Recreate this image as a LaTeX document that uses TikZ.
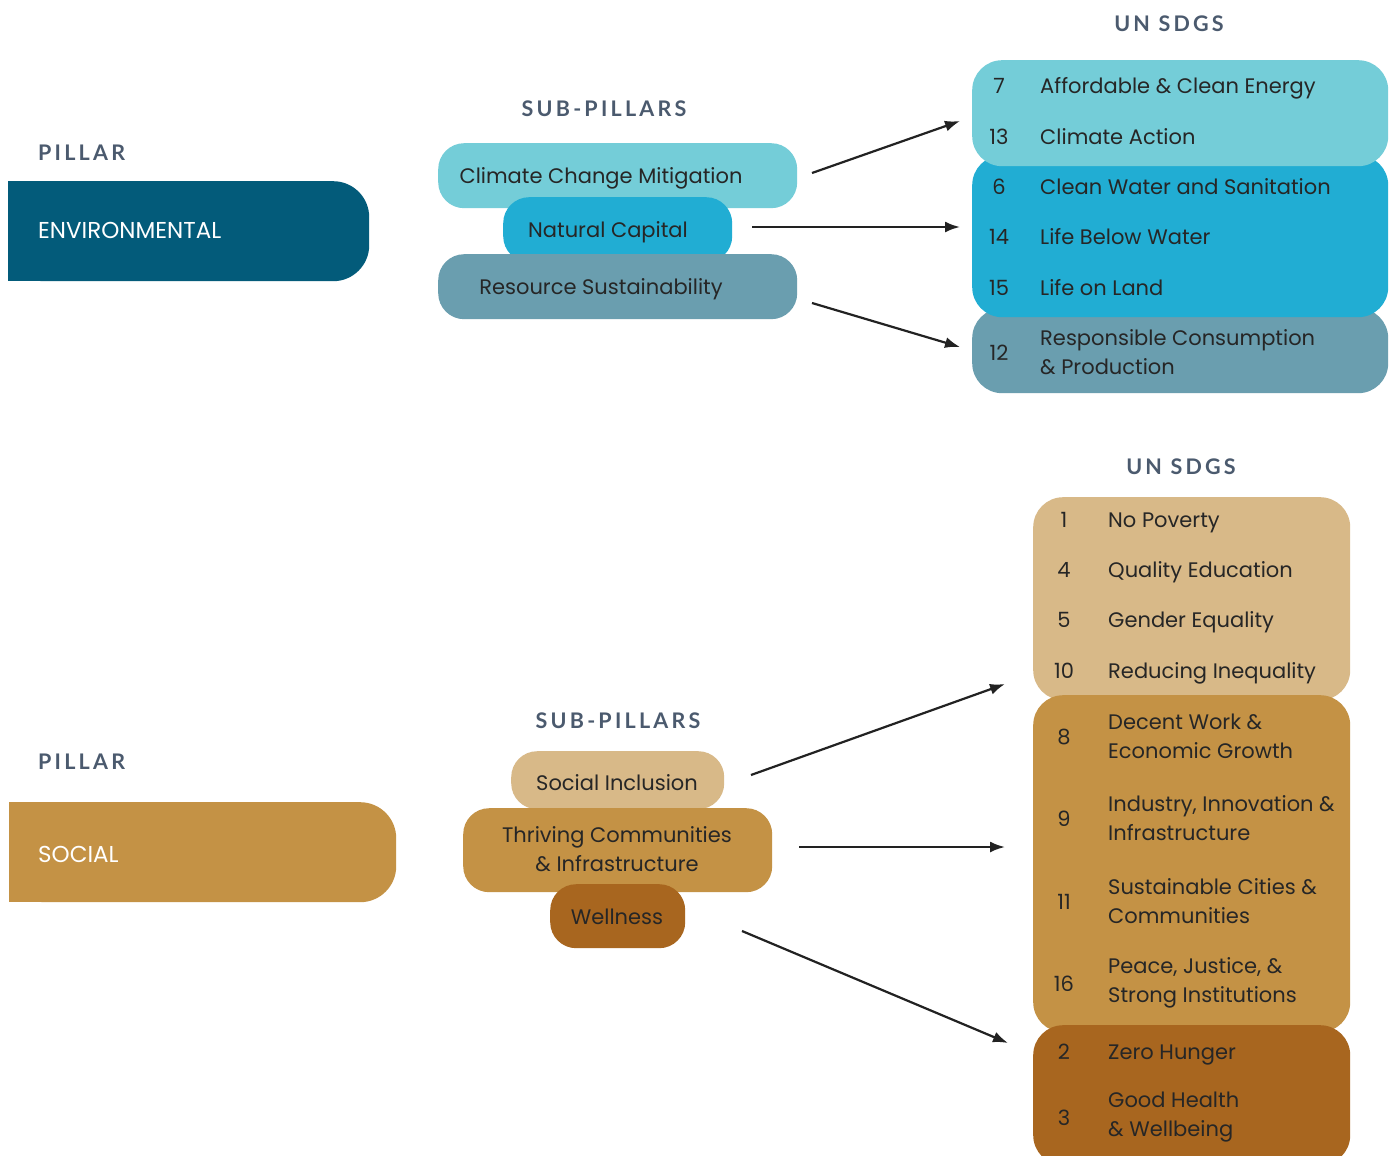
\documentclass[tikz,border=0pt]{standalone}
\usepackage{fontspec}
\setmainfont{Poppins}
\newfontfamily\headfont[LetterSpace=15]{Lato}
\usetikzlibrary{arrows.meta}
\definecolor{envdark}{HTML}{035B7A}
\definecolor{envlight}{HTML}{74CDD8}
\definecolor{envblue}{HTML}{21ADD3}
\definecolor{envgrey}{HTML}{6A9EAF}
\definecolor{soclight}{HTML}{D8B988}
\definecolor{socmid}{HTML}{C49245}
\definecolor{socdark}{HTML}{A8661F}
\definecolor{txtdark}{HTML}{262626}
\definecolor{headc}{HTML}{4B5A6E}
\definecolor{arrowc}{HTML}{222222}
\begin{document}
\begin{tikzpicture}[x=1pt,y=-1pt,
  lbl/.style={font=\fontsize{21}{29}\selectfont, text=txtdark, inner sep=0pt},
  num/.style={lbl, anchor=base},
  itm/.style={lbl, anchor=base west},
  itmm/.style={lbl, anchor=west, align=left},
  head/.style={font=\headfont\bfseries\fontsize{21.5}{24}\selectfont, text=headc, inner sep=0pt},
  plab/.style={font=\fontsize{23}{26}\selectfont, text=white, inner sep=0pt, anchor=base west},
  conn/.style={line width=2.2pt, draw=arrowc, -{Latex[length=15pt,width=11pt]}},
  subbox/.style={rounded corners=26pt, inner sep=0pt, anchor=north west},
  sdgbox/.style={rounded corners=30pt, inner sep=0pt, anchor=north west},
  pillarbox/.style={rounded corners=36pt, inner sep=0pt, anchor=north west}
]
\useasboundingbox[fill=white] (0,0) rectangle (1397,1156);

% ---------------- ENVIRONMENTAL ----------------
\node[head, anchor=west] (envPH) at (38,153) {PILLAR};
\node[head] (envSH) at (604,109) {SUB-PILLARS};
\node[head] (envUH) at (1169,24) {UN SDGS};

\node[pillarbox, fill=envdark, minimum width=361pt, minimum height=100pt] (envP) at (8,181) {};
\fill[envdark] (envP.north west) rectangle ([xshift=60pt]envP.south west);
\node[plab] (envPL) at (38,238) {ENVIRONMENTAL};

\node[subbox, fill=envlight, minimum width=359pt, minimum height=65pt] (ccm) at (438,143) {};
\node[lbl, anchor=base] (ccmL) at (601,183) {Climate Change Mitigation};
\node[subbox, fill=envblue, minimum width=229pt, minimum height=65pt] (nc) at (503,197) {};
\node[lbl, anchor=base] (ncL) at (608,237) {Natural Capital};
\node[subbox, fill=envgrey, minimum width=359pt, minimum height=65pt] (rs) at (438,254) {};
\node[lbl, anchor=base] (rsL) at (601,294) {Resource Sustainability};

\node[sdgbox, fill=envgrey, minimum width=416pt, minimum height=85pt] (sdgE3) at (972,308) {};
\node[sdgbox, fill=envblue, minimum width=416pt, minimum height=162pt] (sdgE2) at (972,155) {};
\node[sdgbox, fill=envlight, minimum width=416pt, minimum height=106pt] (sdgE1) at (972,60) {};

\node[num] (n7) at (999,93) {7};
\node[itm] (t7) at (1040,93) {Affordable \& Clean Energy};
\node[num] (n13) at (999,144) {13};
\node[itm] (t13) at (1040,144) {Climate Action};
\node[num] (n6) at (999,194) {6};
\node[itm] (t6) at (1040,194) {Clean Water and Sanitation};
\node[num] (n14) at (999,244) {14};
\node[itm] (t14) at (1040,244) {Life Below Water};
\node[num] (n15) at (999,295) {15};
\node[itm] (t15) at (1040,295) {Life on Land};
\node[num] (n12) at (999,360) {12};
\node[itmm] (t12) at (1040,352) {Responsible Consumption\\\& Production};

\coordinate (eA1s) at (812,173); \coordinate (eA1e) at (960,121);
\coordinate (eA2s) at (752,227); \coordinate (eA2e) at (960,227);
\coordinate (eA3s) at (812,303); \coordinate (eA3e) at (960,347);
\draw[conn] (eA1s) -- (eA1e);
\draw[conn] (eA2s) -- (eA2e);
\draw[conn] (eA3s) -- (eA3e);

% ---------------- SOCIAL ----------------
\node[head, anchor=west] (socPH) at (38,762) {PILLAR};
\node[head] (socSH) at (618,721) {SUB-PILLARS};
\node[head] (socUH) at (1181,467) {UN SDGS};

\node[pillarbox, fill=socmid, minimum width=387pt, minimum height=100pt] (socP) at (9,802) {};
\fill[socmid] (socP.north west) rectangle ([xshift=60pt]socP.south west);
\node[plab] (socPL) at (38,862) {SOCIAL};

\node[subbox, fill=soclight, minimum width=213pt, minimum height=58pt] (si) at (511,751) {};
\node[lbl, anchor=base] (siL) at (617,790) {Social Inclusion};
\node[subbox, fill=socmid, minimum width=309pt, minimum height=84pt] (tc) at (463,808) {};
\node[lbl, align=center] (tcL) at (617,849) {Thriving Communities\\\& Infrastructure};
\node[subbox, fill=socdark, minimum width=135pt, minimum height=64pt] (we) at (550,884) {};
\node[lbl, anchor=base] (weL) at (617,924) {Wellness};

\node[sdgbox, fill=soclight, minimum width=317pt, minimum height=203pt] (sdgS1) at (1033,497) {};
\node[sdgbox, fill=socmid, minimum width=317pt, minimum height=337pt] (sdgS2) at (1033,695) {};
\node[sdgbox, fill=socdark, minimum width=317pt, minimum height=140pt] (sdgS3) at (1033,1025) {};

\node[num] (n1) at (1064,527) {1};
\node[itm] (t1) at (1108,527) {No Poverty};
\node[num] (n4) at (1064,577) {4};
\node[itm] (t4) at (1108,577) {Quality Education};
\node[num] (n5) at (1064,627) {5};
\node[itm] (t5) at (1108,627) {Gender Equality};
\node[num] (n10) at (1064,678) {10};
\node[itm] (t10) at (1108,678) {Reducing Inequality};
\node[num] (n8) at (1064,744) {8};
\node[itmm] (t8) at (1108,736) {Decent Work \&\\Economic Growth};
\node[num] (n9) at (1064,826) {9};
\node[itmm] (t9) at (1108,818) {Industry, Innovation \&\\Infrastructure};
\node[num] (n11) at (1064,909) {11};
\node[itmm] (t11) at (1108,901) {Sustainable Cities \&\\Communities};
\node[num] (n16) at (1064,991) {16};
\node[itmm] (t16) at (1108,983) {Peace, Justice, \&\\Strong Institutions};
\node[num] (n2) at (1064,1059) {2};
\node[itm] (t2) at (1108,1059) {Zero Hunger};
\node[num] (n3) at (1064,1125) {3};
\node[itmm] (t3) at (1108,1117) {Good Health\\\& Wellbeing};

\coordinate (sA1s) at (751,775); \coordinate (sA1e) at (1005,684);
\coordinate (sA2s) at (799,847); \coordinate (sA2e) at (1005,847);
\coordinate (sA3s) at (742,931); \coordinate (sA3e) at (1008,1043);
\draw[conn] (sA1s) -- (sA1e);
\draw[conn] (sA2s) -- (sA2e);
\draw[conn] (sA3s) -- (sA3e);
\end{tikzpicture}
\end{document}
